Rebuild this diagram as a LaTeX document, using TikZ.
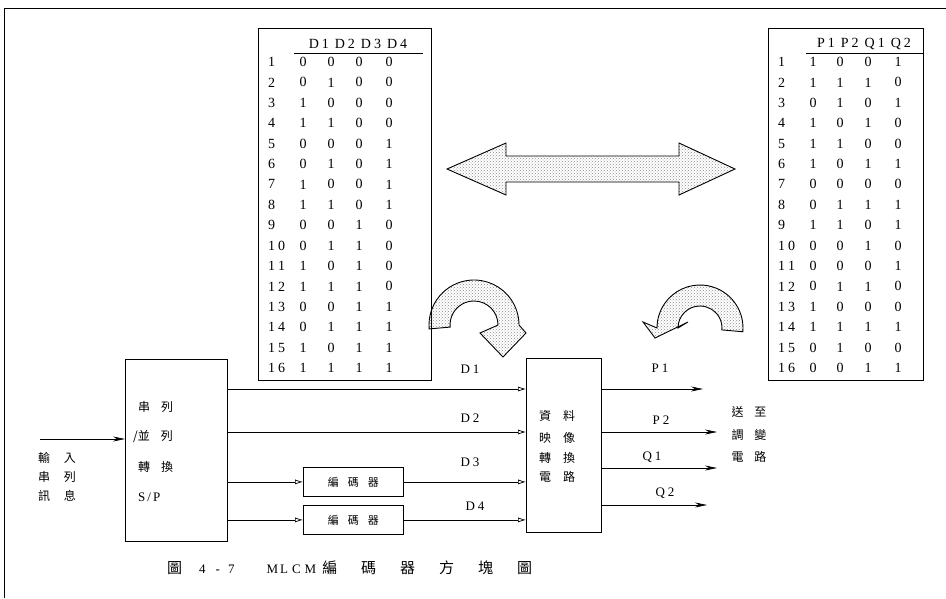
\documentclass[tikz,border=0pt]{standalone}
\usepackage{fontspec}
\setmainfont{Liberation Serif}
\newfontfamily\cjk{Noto Sans CJK TC}
\usetikzlibrary{arrows.meta,patterns}
\begin{document}
\begin{tikzpicture}[x=1pt,y=-1pt,
 every node/.style={inner sep=0pt},
 cell/.style={font=\fontsize{14}{14}\selectfont},
 lbl/.style={font=\fontsize{13}{13}\selectfont},
 ck/.style={font=\fontsize{12}{12}\selectfont\cjk},
 box/.style={draw, line width=0.8pt, anchor=north west},
 tbl/.style={draw, line width=1pt, anchor=north west},
 sig/.style={line width=0.7pt},
 opent/.style={-{Latex[open,length=8pt,width=5pt]}},
 fillt/.style={-{Stealth[length=12pt,width=5pt]}},
 stip/.style={draw, line width=0.9pt, pattern=crosshatch dots, pattern color=black!45},
]
\useasboundingbox (0,0) rectangle (946,598);
% frame
\draw[line width=0.8pt] (4,598) -- (4,8) -- (946,8);

% D table
\node[tbl, minimum width=173pt, minimum height=352pt] (dtab) at (258,28) {};
\node[lbl, font=\fontsize{14}{14}\selectfont] (dhead) at (358,44) {D\kern3pt1\kern6pt D\kern3pt2\kern6pt D\kern3pt3\kern6pt D\kern3pt4};
\draw[line width=0.8pt] (294,53) -- (423,53);
\foreach \n/\ca/\cb/\cc/\cd [count=\r] in {1/0/0/0/0, 2/0/1/0/0, 3/1/0/0/0, 4/1/1/0/0, 5/0/0/0/1, 6/0/1/0/1, 7/1/0/0/1, 8/1/1/0/1, 9/0/0/1/0, 1\kern3pt0/0/1/1/0, 1\kern3pt1/1/0/1/0, 1\kern3pt2/1/1/1/0, 1\kern3pt3/0/0/1/1, 1\kern3pt4/0/1/1/1, 1\kern3pt5/1/0/1/1, 1\kern3pt6/1/1/1/1}{
  \pgfmathsetmacro{\yy}{62+(\r-1)*20.4}
  \node[cell, anchor=west] (dn\r) at (268,\yy) {\n};
  \node[cell] (da\r) at (303,\yy) {\ca};
  \node[cell] (db\r) at (331,\yy) {\cb};
  \node[cell] (dc\r) at (359,\yy) {\cc};
  \node[cell] (dd\r) at (389,\yy) {\cd};
}

% P table
\node[tbl, minimum width=155pt, minimum height=352pt] (ptab) at (768,28) {};
\node[lbl, font=\fontsize{14}{14}\selectfont] (phead) at (864,44) {P\kern3pt1\kern6pt P\kern3pt2\kern6pt Q\kern3pt1\kern6pt Q\kern3pt2};
\draw[line width=0.8pt] (806,53) -- (923,53);
\foreach \n/\ca/\cb/\cc/\cd [count=\r] in {1/1/0/0/1, 2/1/1/1/0, 3/0/1/0/1, 4/1/0/1/0, 5/1/1/0/0, 6/1/0/1/1, 7/0/0/0/0, 8/0/1/1/1, 9/1/1/0/1, 1\kern3pt0/0/0/1/0, 1\kern3pt1/0/0/0/1, 1\kern3pt2/0/1/1/0, 1\kern3pt3/1/0/0/0, 1\kern3pt4/1/1/1/1, 1\kern3pt5/0/1/0/0, 1\kern3pt6/0/0/1/1}{
  \pgfmathsetmacro{\yy}{62+(\r-1)*20.4}
  \node[cell, anchor=west] (pn\r) at (778,\yy) {\n};
  \node[cell] (pa\r) at (813,\yy) {\ca};
  \node[cell] (pb\r) at (840,\yy) {\cb};
  \node[cell] (pc\r) at (868,\yy) {\cc};
  \node[cell] (pd\r) at (898,\yy) {\cd};
}

% double arrow
\draw[stip] (447,169) -- (506,143) -- (506,156) -- (679,156) -- (679,143) -- (735,169)
  -- (679,195) -- (679,182) -- (506,182) -- (506,195) -- cycle;

% left curved arrow
\draw[stip] (474,325) ++(185:45pt) arc[start angle=185,end angle=0,radius=45pt]
  -- (526,333) -- (503,357) -- (480,333) -- (498,325)
  arc[start angle=0,end angle=185,radius=24pt] -- cycle;

% right curved arrow
\draw[stip] (700,328) ++(-5:43pt) arc[start angle=-5,end angle=180,radius=43pt]
  -- (643,322) -- (655,338) -- (688,322) -- (678,328)
  arc[start angle=180,end angle=-5,radius=22pt] -- cycle;

% S/P box
\node[box, minimum width=102pt, minimum height=182pt] (sp) at (125,359) {};
\node[ck, anchor=west] (sp1) at (138,407) {串\hspace{11pt}列};
\node[ck, anchor=west] (sp2) at (133,437) {/並\hspace{11pt}列};
\node[ck, anchor=west] (sp3) at (138,467) {轉\hspace{11pt}換};
\node[lbl, anchor=west] (sp4) at (138,497) {S\kern2pt/\kern2pt P};

% input
\coordinate (in) at (40,439);
\draw[sig, fillt] (in) -- (sp.west |- in);
\node[ck] (in1) at (57,458) {輸\hspace{14pt}入};
\node[ck] (in2) at (57,477) {串\hspace{14pt}列};
\node[ck] (in3) at (57,496) {訊\hspace{14pt}息};

% encoders
\node[box, minimum width=100pt, minimum height=29pt, font=\fontsize{11}{11}\selectfont\cjk] (enc1) at (303,467) {編\hspace{9pt}碼\hspace{9pt}器};
\node[box, minimum width=100pt, minimum height=29pt, font=\fontsize{11}{11}\selectfont\cjk] (enc2) at (303,505) {編\hspace{9pt}碼\hspace{9pt}器};

% mapping box
\node[box, minimum width=75pt, minimum height=174pt] (map) at (526,358) {};
\node[ck] (m1) at (557,416) {資\hspace{12pt}料};
\node[ck] (m2) at (557,438) {映\hspace{12pt}像};
\node[ck] (m3) at (557,458) {轉\hspace{12pt}換};
\node[ck] (m4) at (557,477) {電\hspace{12pt}路};

% D lines
\coordinate (yd1) at (0,389);
\coordinate (yd2) at (0,432);
\draw[sig, opent] (sp.east |- yd1) -- (map.west |- yd1);
\draw[sig, opent] (sp.east |- yd2) -- (map.west |- yd2);
\draw[sig, opent] (sp.east |- enc1) -- (enc1.west);
\draw[sig, opent] (enc1.east) -- (map.west |- enc1);
\draw[sig, opent] (sp.east |- enc2) -- (enc2.west);
\draw[sig, opent] (enc2.east) -- (map.west |- enc2);
\node[lbl] (ld1) at (470,369) {D\kern3pt1};
\node[lbl] (ld2) at (470,418) {D\kern3pt2};
\node[lbl] (ld3) at (470,462) {D\kern3pt3};
\node[lbl] (ld4) at (475,506) {D\kern3pt4};

% outputs
\coordinate (op1) at (703,389);
\coordinate (op2) at (717,432);
\coordinate (op3) at (717,468);
\coordinate (op4) at (707,505);
\draw[sig, fillt] (map.east |- op1) -- (op1);
\draw[sig, fillt] (map.east |- op2) -- (op2);
\draw[sig, fillt] (map.east |- op3) -- (op3);
\draw[sig, fillt] (map.east |- op4) -- (op4);
\node[lbl] (lp1) at (660,368) {P\kern3pt1};
\node[lbl] (lp2) at (661,420) {P\kern3pt2};
\node[lbl] (lq1) at (652,457) {Q\kern3pt1};
\node[lbl] (lq2) at (665,493) {Q\kern3pt2};
\node[ck] (o1) at (749,412) {送\hspace{11pt}至};
\node[ck] (o2) at (749,435) {調\hspace{11pt}變};
\node[ck] (o3) at (749,457) {電\hspace{11pt}路};

% caption
\node[font=\fontsize{15}{15}\selectfont\cjk, anchor=west] (cap) at (167,568) {圖\hspace{17pt}{\rmfamily\fontsize{13}{13}\selectfont 4\kern10pt-\kern8pt7\hspace{32pt}M\kern2pt L\kern4pt C\kern4pt M}\hspace{6pt}編\hspace{24pt}碼\hspace{24pt}器\hspace{24pt}方\hspace{24pt}塊\hspace{24pt}圖};
\end{tikzpicture}
\end{document}
